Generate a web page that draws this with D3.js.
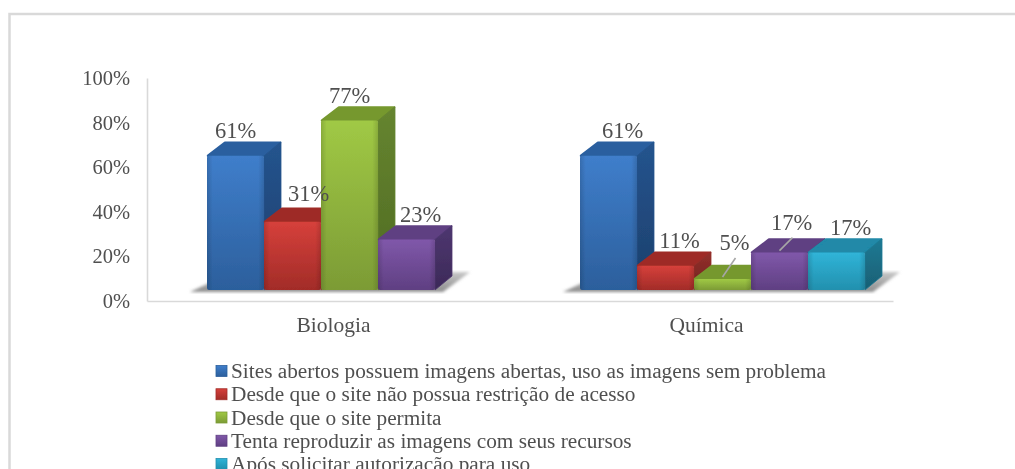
<!DOCTYPE html>
<html>
<head>
<meta charset="utf-8">
<script src="https://cdn.jsdelivr.net/npm/d3@7"></script>
<style>
	html, body { margin: 0; padding: 0; background: #fff; overflow: hidden; }
	text { font-family: "Liberation Serif", serif; fill: #505050; }
</style>
</head>
<body>
<div id="chart"></div>
<script>
const categories = ["Biologia", "Química"];
const seriesNames = [
	"Sites abertos possuem imagens abertas, uso as imagens sem problema",
	"Desde que o site não possua restrição de acesso",
	"Desde que o site permita",
	"Tenta reproduzir as imagens com seus recursos",
	"Após solicitar autorização para uso"
];
const biologia = [61, 31, 77, 23, null];
const quimica = [61, 11, 5, 17, 17];
const yTicks = [0, 20, 40, 60, 80, 100];

// front, front bottom, top, side, side bottom
const palette = [
	["#3f7ecb", "#2c5f9c", "#2a5f9f", "#25548e", "#1c3f6c"],
	["#d6403b", "#a22c28", "#9e2b27", "#94302b", "#702320"],
	["#a0c945", "#7c9b35", "#76982f", "#668530", "#4f6a22"],
	["#8058aa", "#5f3f82", "#5f4082", "#4e3670", "#3c2a58"],
	["#30b4d8", "#2290ae", "#2089a8", "#1f7a94", "#185f74"]
];

const width = 1015, height = 469;
const depth = { x: 17, y: -14 };

const svg = d3.select("#chart").append("svg")
	.attr("width", width)
	.attr("height", height)
	.style("display", "block");

const defs = svg.append("defs");
defs.append("filter").attr("id", "soft")
	.append("feGaussianBlur").attr("stdDeviation", 0.55);
defs.append("filter").attr("id", "shadowBlur")
	.append("feGaussianBlur").attr("stdDeviation", 1.8);

palette.forEach(function(c, i) {
	var front = defs.append("linearGradient").attr("id", "front" + i)
		.attr("x1", 0).attr("y1", 0).attr("x2", 0).attr("y2", 1);
	front.append("stop").attr("offset", 0).attr("stop-color", c[0]);
	front.append("stop").attr("offset", 1).attr("stop-color", c[1]);
	var side = defs.append("linearGradient").attr("id", "side" + i)
		.attr("x1", 0).attr("y1", 0).attr("x2", 0).attr("y2", 1);
	side.append("stop").attr("offset", 0).attr("stop-color", c[3]);
	side.append("stop").attr("offset", 1).attr("stop-color", c[4]);
});

var edge = defs.append("linearGradient").attr("id", "edge");
edge.append("stop").attr("offset", 0).attr("stop-color", "#000").attr("stop-opacity", 0.14);
edge.append("stop").attr("offset", 0.1).attr("stop-color", "#000").attr("stop-opacity", 0);
edge.append("stop").attr("offset", 0.9).attr("stop-color", "#000").attr("stop-opacity", 0);
edge.append("stop").attr("offset", 1).attr("stop-color", "#000").attr("stop-opacity", 0.14);

var floor = defs.append("linearGradient").attr("id", "floor")
	.attr("x1", 0).attr("y1", 1).attr("x2", 0).attr("y2", 0);
floor.append("stop").attr("offset", 0).attr("stop-color", "#8c8c8c");
floor.append("stop").attr("offset", 1).attr("stop-color", "#c8c8c8");

const root = svg.append("g").attr("filter", "url(#soft)");

// outer frame, cut off by the window on the right and at the bottom
root.append("path")
	.attr("d", d3.line()([[width, 14], [9.5, 14], [9.5, height]]))
	.attr("fill", "none")
	.attr("stroke", "#d9d9d9")
	.attr("stroke-width", 2.5);

// the tick labels sit on the back wall, the bars stand on the front of the floor
const x = d3.scaleBand().domain(categories).range([147, 893]);
const yWall = d3.scaleLinear().domain([0, 100]).range([301, 78]);
const y = d3.scaleLinear().domain([0, 100]).range([290, 70]);
const slot = d3.scaleBand().domain(d3.range(5)).range([60, 345]);

const yAxis = d3.axisLeft(yWall).tickValues(yTicks).tickSize(0).tickPadding(17)
	.tickFormat(d => d + "%");
const xAxis = d3.axisBottom(x).tickSize(0).tickPadding(16);

root.append("g").attr("class", "y axis")
	.attr("transform", "translate(147,0)")
	.call(yAxis)
	.call(g => g.selectAll("text").style("font-size", "20.5px"))
	.call(g => g.select(".domain").attr("stroke", "#d9d9d9").attr("stroke-width", 1.6));

root.append("g").attr("class", "x axis")
	.attr("transform", "translate(0,301)")
	.call(xAxis)
	.call(g => g.selectAll("text").style("font-size", "21.5px"))
	.call(g => g.select(".domain").attr("stroke", "#d9d9d9").attr("stroke-width", 1.6));

const groups = [
	{ name: categories[0], values: biologia },
	{ name: categories[1], values: quimica }
];

// label position relative to the middle of the bar top, most sit towards the back
function labelOffset(groupIndex, i) {
	if (groupIndex === 0 && (i === 0 || i === 2)) return [0, -25];
	if (groupIndex === 0 && i === 1) return [16, -28];
	if (groupIndex === 1 && i === 2) return [12, -36];
	if (groupIndex === 1 && i === 3) return [12, -30];
	return [14, -25];
}

groups.forEach(function(group, gi) {
	var g = root.append("g").attr("class", "group");
	var left = x(group.name);
	var present = group.values.map((v, i) => v === null ? -1 : i).filter(i => i >= 0);
	var x0 = left + slot(present[0]);
	var x1 = left + slot(present[present.length - 1]) + slot.bandwidth();
	var base = y(0);

	// floor shadow
	g.append("path")
		.attr("d", d3.line()([
			[x0 - 17, base + 2],
			[x1 + 8, base + 2],
			[x1 + 35, base - 18],
			[x1 + 17, base - 18],
			[x0 + 17, base - 14]
		]) + "Z")
		.attr("fill", "url(#floor)")
		.attr("filter", "url(#shadowBlur)");

	group.values.forEach(function(v, i) {
		if (v === null) return;
		var bx = left + slot(i), w = slot.bandwidth(), top = y(v);
		var bar = g.append("g").attr("class", "bar");

		bar.append("path") // top
			.attr("d", d3.line()([
				[bx + 1, top], [bx + depth.x + 1, top + depth.y + 1],
				[bx + w + depth.x - 1, top + depth.y + 1], [bx + w - 1, top]
			]) + "Z")
			.attr("fill", palette[i][2])
			.attr("stroke", palette[i][2])
			.attr("stroke-width", 2.5)
			.attr("stroke-linejoin", "round");
		bar.append("path") // side
			.attr("d", d3.line()([
				[bx + w, top], [bx + w + depth.x, top + depth.y],
				[bx + w + depth.x, base + depth.y], [bx + w, base]
			]) + "Z")
			.attr("fill", "url(#side" + i + ")")
			.attr("stroke", palette[i][3])
			.attr("stroke-width", 0.8)
			.attr("stroke-linejoin", "round");
		bar.append("rect") // front
			.attr("x", bx).attr("y", top)
			.attr("width", w).attr("height", base - top)
			.attr("rx", 2)
			.attr("fill", "url(#front" + i + ")");
		bar.append("rect")
			.attr("x", bx).attr("y", top)
			.attr("width", w).attr("height", base - top)
			.attr("rx", 2)
			.attr("fill", "url(#edge)");
	});

	// labels go on top of every bar of the group
	group.values.forEach(function(v, i) {
		if (v === null) return;
		var cx = left + slot(i) + slot.bandwidth() / 2, top = y(v);
		var off = labelOffset(gi, i);
		var lx = cx + off[0], ly = top + off[1];

		if (off[1] < -28 && gi === 1) {
			g.append("line")
				.attr("x1", lx + 1).attr("y1", ly + 15)
				.attr("x2", cx).attr("y2", top - 2)
				.attr("stroke", "#a6a6a6")
				.attr("stroke-width", 1.6);
		}
		g.append("text")
			.attr("x", lx).attr("y", ly)
			.attr("dy", "0.33em")
			.attr("text-anchor", "middle")
			.style("font-size", "22.5px")
			.text(v + "%");
	});
});

// legend
const legendY = d3.scalePoint().domain(seriesNames).range([371, 464]);
const legend = root.append("g").attr("class", "legend");
seriesNames.forEach(function(name, i) {
	var ly = legendY(name);
	legend.append("rect")
		.attr("x", 216).attr("y", ly - 5.5)
		.attr("width", 11).attr("height", 11)
		.attr("fill", "url(#front" + i + ")")
		.attr("stroke", palette[i][1])
		.attr("stroke-width", 0.8);
	legend.append("text")
		.attr("x", 231).attr("y", ly)
		.attr("dy", "0.33em")
		.style("font-size", "21.3px")
		.text(name);
});
</script>
</body>
</html>
